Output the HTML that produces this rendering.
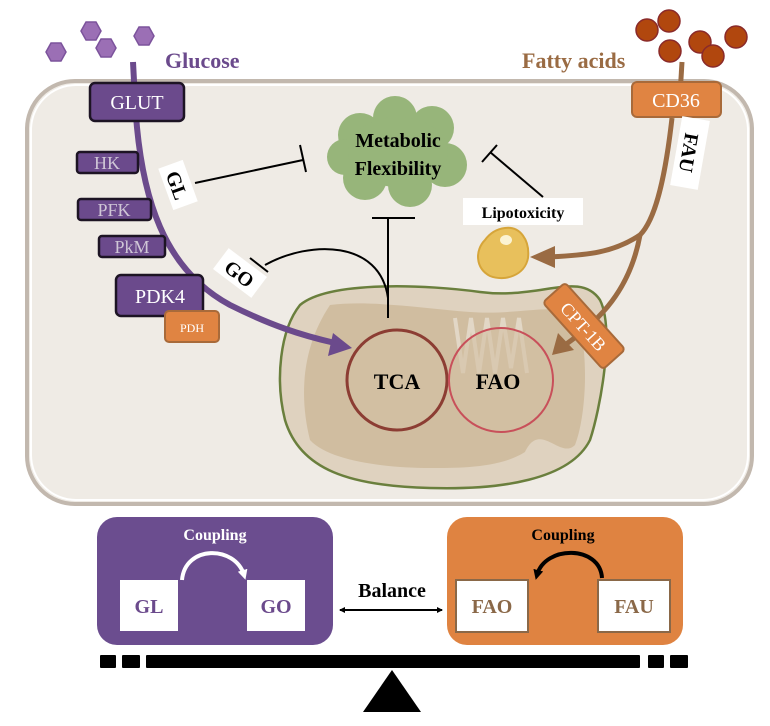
<!DOCTYPE html>
<html><head><meta charset="utf-8"><style>
html,body{margin:0;padding:0;background:#fff}
svg{display:block}
text{font-family:"Liberation Serif",serif}
</style></head><body>
<svg width="770" height="726" viewBox="0 0 770 726" xmlns="http://www.w3.org/2000/svg">
<defs>
<marker id="ah" markerWidth="6" markerHeight="6" refX="5" refY="3" orient="auto-start-reverse" markerUnits="userSpaceOnUse"><path d="M0,0L6,3L0,6z" fill="#000"/></marker>
<marker id="ahw" markerWidth="10" markerHeight="10" refX="5" refY="5" orient="auto" markerUnits="userSpaceOnUse"><path d="M0,0L10,5L0,10z" fill="#fff"/></marker>
<marker id="ahb" markerWidth="10" markerHeight="10" refX="5" refY="5" orient="auto" markerUnits="userSpaceOnUse"><path d="M0,0L10,5L0,10z" fill="#000"/></marker>
</defs>
<rect x="27" y="81" width="725" height="423" rx="48" fill="#efebe5" stroke="#c2b8ae" stroke-width="4"/>
<rect x="31" y="85" width="717" height="415" rx="45" fill="none" stroke="#fff" stroke-width="2"/>
<g fill="#9b6fb5" stroke="#7c539c" stroke-width="1.5">
<polygon points="46,52 51,43 61,43 66,52 61,61 51,61"/>
<polygon points="81,31 86,22 96,22 101,31 96,40 86,40"/>
<polygon points="96,48 101,39 111,39 116,48 111,57 101,57"/>
<polygon points="134,36 139,27 149,27 154,36 149,45 139,45"/>
</g>
<text x="165" y="68" font-size="22" font-weight="bold" fill="#6b4a8c">Glucose</text>
<g fill="#b1470e" stroke="#8a2a2a" stroke-width="1.5">
<circle cx="647" cy="30" r="11"/><circle cx="669" cy="21" r="11"/><circle cx="670" cy="51" r="11"/>
<circle cx="700" cy="42" r="11"/><circle cx="713" cy="56" r="11"/><circle cx="736" cy="37" r="11"/>
</g>
<text x="522" y="68" font-size="22" font-weight="bold" fill="#9a6b43">Fatty acids</text>
<path d="M300,305 C330,280 430,285 480,292 C540,300 580,270 600,300 C615,330 600,410 590,440 C570,480 500,490 430,488 C350,486 300,470 285,420 C275,380 280,330 300,305z" fill="#dfd2bf" stroke="#6a7f3d" stroke-width="2.5"/>
<path d="M330,305 C370,300 420,308 470,312 C520,316 560,300 578,318 C590,360 585,420 575,445 C560,460 540,420 525,452 C500,468 460,468 430,468 C390,468 330,462 310,440 C300,400 300,350 330,305z" fill="#d0bda0"/>
<path d="M455,318 l8,55 l8,-55 l8,55 l8,-55 l8,55 l8,-55 l8,50 l8,-50 l8,55" fill="none" stroke="#e2d7c6" stroke-width="4"/>
<circle cx="397" cy="380" r="50" fill="#d3c0a3" fill-opacity="0.6" stroke="#8c3d33" stroke-width="3"/>
<circle cx="501" cy="380" r="52" fill="#d3c0a3" fill-opacity="0.6" stroke="#c8505a" stroke-width="2"/>
<text x="397" y="389" font-size="22" font-weight="bold" text-anchor="middle">TCA</text>
<text x="498" y="389" font-size="22" font-weight="bold" text-anchor="middle">FAO</text>
<path d="M133,62 L135,100 C140,200 165,270 230,305 C270,325 300,335 335,343" fill="none" stroke="#6b4a8c" stroke-width="6"/>
<polygon points="352,348 328,356 333,333" fill="#6b4a8c"/>
<g stroke="#1d1424" stroke-width="2.5" fill="#6b4a8c">
<rect x="90" y="83" width="94" height="38" rx="5"/>
<rect x="77" y="152" width="61" height="21" rx="3"/>
<rect x="78" y="199" width="73" height="21" rx="3"/>
<rect x="99" y="236" width="66" height="21" rx="3"/>
<rect x="116" y="275" width="87" height="41" rx="5"/>
</g>
<rect x="165" y="311" width="54" height="31" rx="4" fill="#e08442" stroke="#a86a3a" stroke-width="2"/>
<g fill="#fff" font-size="18" text-anchor="middle">
<text x="137" y="109" font-size="20">GLUT</text>
<text x="107" y="169" fill="#cfc6d6">HK</text>
<text x="114" y="216" fill="#cfc6d6">PFK</text>
<text x="132" y="253" fill="#cfc6d6">PkM</text>
<text x="160" y="303" font-size="20">PDK4</text>
<text x="192" y="332" font-size="12">PDH</text>
</g>
<g transform="translate(178,185) rotate(70)"><rect x="-22" y="-13" width="44" height="26" fill="#fff"/><text x="0" y="8" font-size="20" font-weight="bold" text-anchor="middle">GL</text></g>
<g transform="translate(240,273) rotate(37)"><rect x="-24" y="-13" width="48" height="26" fill="#fff"/><text x="0" y="8" font-size="20" font-weight="bold" text-anchor="middle">GO</text></g>
<g stroke="#000" stroke-width="2" fill="none">
<path d="M195,183 L303,160"/><path d="M300,145 L306,172"/>
<path d="M388,318 L388,218"/><path d="M372,218 L415,218"/>
<path d="M388,298 C380,240 310,240 265,265"/><path d="M250,258 L268,272"/>
<path d="M543,197 L490,152"/><path d="M497,145 L482,162"/>
</g>
<g fill="#97b57a">
<circle cx="360" cy="135" r="22"/><circle cx="395" cy="118" r="22"/><circle cx="432" cy="128" r="22"/><circle cx="445" cy="165" r="22"/><circle cx="410" cy="185" r="22"/><circle cx="365" cy="178" r="22"/><circle cx="345" cy="157" r="18"/><ellipse cx="398" cy="152" rx="50" ry="35"/>
</g>
<text x="398" y="147" font-size="20" font-weight="bold" text-anchor="middle">Metabolic</text>
<text x="398" y="175" font-size="20" font-weight="bold" text-anchor="middle">Flexibility</text>
<rect x="463" y="198" width="120" height="27" fill="#fff"/>
<text x="523" y="218" font-size="16" font-weight="bold" text-anchor="middle">Lipotoxicity</text>
<path d="M505,228 C520,226 530,240 528,258 C525,275 505,282 490,276 C475,268 475,250 485,240 C490,233 497,229 505,228z" fill="#e8c05c" stroke="#d6a53a" stroke-width="2"/>
<ellipse cx="506" cy="240" rx="6" ry="5" fill="#fbf3d3"/>
<g stroke="#9a6b43" stroke-width="5" fill="none">
<path d="M682,62 L680,95"/>
<path d="M672,118 C665,180 655,220 640,235 C610,255 580,255 550,257"/>
<path d="M640,235 C630,290 600,320 565,345"/>
</g>
<polygon points="530,257 555,246 555,268" fill="#9a6b43"/>
<polygon points="552,355 558,333 574,350" fill="#9a6b43"/>
<rect x="632" y="82" width="89" height="35" rx="5" fill="#e08442" stroke="#a86a3a" stroke-width="2"/>
<text x="676" y="107" font-size="20" fill="#fff" text-anchor="middle">CD36</text>
<g transform="translate(690,153) rotate(100)"><rect x="-35" y="-14" width="70" height="28" fill="#fff"/><text x="0" y="8" font-size="20" font-weight="bold" text-anchor="middle">FAU</text></g>
<g transform="translate(584,326) rotate(48)"><rect x="-45" y="-15" width="90" height="30" rx="4" fill="#e08442" stroke="#a86a3a" stroke-width="2"/><text x="0" y="7" font-size="18" fill="#fff" text-anchor="middle">CPT-1B</text></g>
<rect x="97" y="517" width="236" height="128" rx="20" fill="#6b4d8f"/>
<rect x="447" y="517" width="236" height="128" rx="20" fill="#df8341"/>
<text x="215" y="540" font-size="16" font-weight="bold" fill="#fff" text-anchor="middle">Coupling</text>
<text x="563" y="540" font-size="16" font-weight="bold" fill="#000" text-anchor="middle">Coupling</text>
<rect x="120" y="580" width="58" height="51" fill="#fff"/>
<rect x="247" y="580" width="58" height="51" fill="#fff"/>
<rect x="456" y="580" width="72" height="52" fill="#fff" stroke="#8a6848" stroke-width="2"/>
<rect x="598" y="580" width="72" height="52" fill="#fff" stroke="#8a6848" stroke-width="2"/>
<g font-size="20" font-weight="bold" text-anchor="middle">
<text x="149" y="613" fill="#6b4a8c">GL</text>
<text x="276" y="613" fill="#6b4a8c">GO</text>
<text x="492" y="613" fill="#8a6848">FAO</text>
<text x="634" y="613" fill="#8a6848">FAU</text>
</g>
<path d="M182,580 C185,545 235,545 244,575" fill="none" stroke="#fff" stroke-width="4" marker-end="url(#ahw)"/>
<path d="M602,578 C600,545 545,545 537,575" fill="none" stroke="#000" stroke-width="4" marker-end="url(#ahb)"/>
<text x="392" y="597" font-size="20" font-weight="bold" text-anchor="middle">Balance</text>
<path d="M340,610 L442,610" stroke="#000" stroke-width="2" marker-end="url(#ah)" marker-start="url(#ah)" fill="none"/>
<g fill="#000">
<rect x="100" y="655" width="16" height="13" rx="1"/>
<rect x="122" y="655" width="18" height="13" rx="1"/>
<rect x="146" y="655" width="494" height="13" rx="1"/>
<rect x="648" y="655" width="16" height="13" rx="1"/>
<rect x="670" y="655" width="18" height="13" rx="1"/>
<polygon points="392,670 363,712 421,712"/>
</g>
</svg>
</body></html>
